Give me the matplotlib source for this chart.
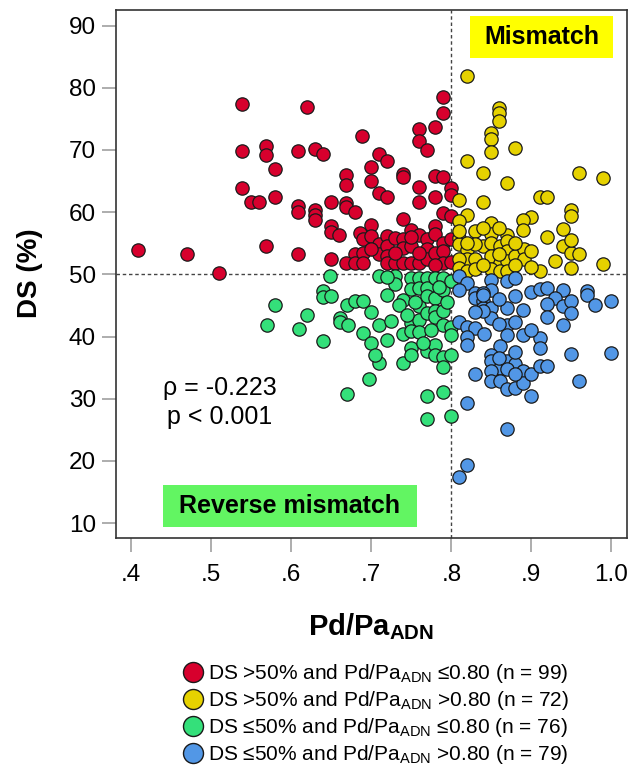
import matplotlib
matplotlib.use("Agg")
import matplotlib.pyplot as plt
from matplotlib.lines import Line2D
from matplotlib.patches import Rectangle

plt.rcParams['font.family'] = ['Liberation Sans', 'DejaVu Sans']
plt.rcParams['mathtext.fontset'] = 'custom'
plt.rcParams['mathtext.rm'] = 'Liberation Sans'
plt.rcParams['mathtext.it'] = 'Liberation Sans:italic'
plt.rcParams['mathtext.bf'] = 'Liberation Sans:bold'

# ---- data: (Pd/Pa_ADN, DS %) ----
red_x = [0.539, 0.620, 0.539, 0.569, 0.569, 0.609, 0.580, 0.539, 0.550, 0.560, 0.580, 0.609, 0.609,
         0.409, 0.470, 0.569, 0.609, 0.510,
         0.689, 0.669, 0.669, 0.650, 0.669, 0.669, 0.680, 0.630, 0.630, 0.630, 0.650, 0.650, 0.660,
         0.686, 0.680, 0.669, 0.680, 0.650,
         0.790, 0.790, 0.779, 0.760, 0.760, 0.770, 0.630, 0.640, 0.710, 0.720, 0.700, 0.740, 0.740,
         0.700, 0.779, 0.790, 0.760, 0.710, 0.720, 0.800, 0.800, 0.779, 0.760, 0.790, 0.800, 0.740,
         0.690, 0.690, 0.690, 0.700, 0.700, 0.710, 0.710, 0.720, 0.720, 0.720, 0.720, 0.730, 0.730,
         0.740, 0.740, 0.740, 0.750, 0.750, 0.750, 0.760, 0.760, 0.770, 0.770, 0.770, 0.780, 0.780,
         0.780, 0.790, 0.790, 0.790, 0.800,
         0.700, 0.760, 0.730, 0.800, 0.750, 0.780]
red_y = [77.4, 76.9, 69.8, 70.6, 69.2, 69.9, 66.9, 63.8, 61.6, 61.6, 62.4, 61.0, 60.0,
         53.9, 53.2, 54.6, 53.2, 50.2,
         72.3, 66.0, 64.4, 61.6, 61.5, 60.9, 60.0, 60.4, 59.6, 58.7, 57.7, 56.8, 56.4,
         56.7, 53.3, 51.8, 51.8, 52.4,
         78.5, 76.0, 73.7, 73.3, 71.4, 70.0, 70.2, 69.4, 69.4, 68.2, 67.3, 66.2, 65.7,
         65.0, 65.8, 65.7, 64.0, 63.0, 62.5, 63.9, 62.7, 62.5, 61.6, 59.9, 59.3, 58.9,
         55.6, 53.4, 51.8, 58.0, 56.1, 54.8, 53.2, 56.1, 54.5, 52.9, 51.8, 55.9, 51.8,
         55.6, 54.2, 51.8, 57.2, 54.5, 51.8, 56.4, 51.8, 55.6, 54.0, 52.4, 57.7, 56.5,
         53.4, 55.0, 53.7, 51.8, 55.6,
         54.0, 53.5, 53.5, 52.0, 56.0, 51.5]

yellow_x = [0.820, 0.860, 0.860, 0.860, 0.850, 0.850, 0.850, 0.880, 0.820, 0.840, 0.870, 0.960, 0.990,
            0.911, 0.920, 0.810, 0.840, 0.950, 0.950, 0.900, 0.890, 0.890, 0.820, 0.810, 0.850,
            0.830, 0.810, 0.810, 0.820, 0.820, 0.840, 0.850, 0.850, 0.861, 0.870, 0.870, 0.870,
            0.850, 0.861, 0.870, 0.880, 0.891, 0.891, 0.920, 0.940, 0.940, 0.950, 0.960, 0.929,
            0.950, 0.990, 0.911, 0.850, 0.861, 0.870, 0.810, 0.810, 0.820, 0.830,
            0.820, 0.830, 0.840, 0.880, 0.900, 0.860, 0.950, 0.810, 0.830, 0.880, 0.900, 0.860, 0.840]
yellow_y = [81.9, 76.8, 75.9, 74.6, 72.8, 71.8, 69.6, 70.3, 68.2, 66.3, 64.7, 66.3, 65.5,
            62.5, 62.5, 61.9, 61.6, 60.4, 59.4, 59.2, 58.8, 57.1, 59.6, 58.5, 58.2,
            56.9, 55.9, 54.8, 53.9, 52.4, 54.6, 56.5, 55.1, 54.5, 56.4, 55.3, 53.7,
            52.9, 51.8, 52.1, 52.9, 54.0, 52.5, 56.0, 57.3, 54.6, 53.4, 53.3, 52.1,
            51.0, 51.6, 50.6, 50.8, 50.5, 50.5, 52.4, 51.0, 50.6, 54.8,
            55.0, 52.4, 57.5, 55.0, 53.8, 57.5, 55.5, 57.0, 50.8, 51.5, 51.2, 53.2, 51.5]

green_x = [0.649, 0.640, 0.640, 0.650, 0.580, 0.620, 0.570, 0.610, 0.640, 0.661, 0.661, 0.671,
           0.670, 0.680, 0.690, 0.690, 0.670, 0.697, 0.700, 0.710, 0.710, 0.720,
           0.710, 0.720, 0.730, 0.730, 0.740, 0.740, 0.740,
           0.750, 0.750, 0.750, 0.750, 0.750, 0.750,
           0.760, 0.760, 0.760, 0.760, 0.760,
           0.770, 0.770, 0.770, 0.770, 0.770, 0.770, 0.770,
           0.780, 0.780, 0.780, 0.780, 0.780, 0.780,
           0.790, 0.790, 0.790, 0.790, 0.790, 0.790, 0.790,
           0.800, 0.800, 0.800, 0.800, 0.800, 0.720,
           0.735, 0.765, 0.775, 0.785, 0.745, 0.755, 0.795, 0.700, 0.725, 0.705]
green_y = [49.7, 47.3, 46.4, 46.5, 45.1, 43.4, 41.9, 41.2, 39.2, 43.0, 42.3, 41.9,
           45.1, 45.7, 45.7, 40.6, 30.8, 33.1, 39.0, 41.9, 35.8, 39.5,
           49.7, 46.6, 49.7, 48.5, 45.8, 40.4, 35.7,
           49.4, 47.6, 42.2, 40.9, 38.2, 37.1,
           49.4, 47.8, 44.9, 42.6, 40.8,
           49.4, 47.8, 46.5, 43.8, 37.6, 30.5, 26.8,
           49.4, 46.2, 44.1, 43.1, 38.7, 37.1,
           49.4, 47.5, 44.1, 41.8, 36.7, 35.1, 31.1,
           48.9, 41.5, 40.3, 37.1, 27.2, 49.5,
           45.0, 39.0, 41.0, 48.0, 43.5, 45.5, 45.5, 44.0, 42.5, 37.0]

blue_x = [0.810, 0.820, 0.810, 0.850, 0.850, 0.870, 0.880, 0.830, 0.830, 0.840, 0.840, 0.840,
          0.850, 0.850, 0.870, 0.870, 0.880, 0.890, 0.810, 0.820, 0.830, 0.841, 0.820, 0.820,
          0.870, 0.890, 0.861,
          0.900, 0.911, 0.920, 0.940, 0.930, 0.920, 0.920, 0.940, 0.950, 0.950, 0.940, 0.970,
          0.970, 0.980, 1.000, 0.911, 0.911, 0.950, 1.000, 0.960,
          0.850, 0.850, 0.861, 0.850, 0.850, 0.861, 0.870, 0.870, 0.880, 0.880, 0.890, 0.890,
          0.900, 0.911, 0.920, 0.900, 0.830, 0.820, 0.870, 0.820, 0.810, 0.870, 0.880, 0.840, 0.840,
          0.830, 0.860, 0.860, 0.880, 0.900, 0.860, 0.880]
blue_y = [49.7, 48.6, 47.5, 49.1, 47.5, 48.9, 49.4, 47.0, 46.2, 47.0, 45.7, 44.6,
          44.6, 43.0, 44.6, 41.9, 42.4, 44.3, 42.4, 41.6, 41.4, 40.4, 40.0, 38.7,
          40.2, 40.2, 38.4,
          47.2, 47.7, 47.8, 47.4, 46.2, 45.2, 43.2, 44.9, 45.7, 43.8, 41.9, 47.3,
          46.6, 45.1, 45.7, 39.7, 38.2, 37.2, 37.4, 32.9,
          37.1, 36.0, 35.0, 34.4, 32.8, 32.8, 36.0, 31.6, 35.5, 31.7, 34.4, 32.5,
          33.9, 35.2, 35.2, 30.4, 33.9, 29.3, 25.2, 19.4, 17.4, 34.7, 33.9, 46.7, 44.1,
          44.0, 46.0, 42.0, 46.5, 41.0, 36.5, 37.5]

group_colors = ['#D7002D', '#E6D200', '#34E07A', '#5297E6']
group_labels = [r'DS >50% and Pd/Pa$_{\mathregular{ADN}}$ ≤0.80 (n = 99)',
                r'DS >50% and Pd/Pa$_{\mathregular{ADN}}$ >0.80 (n = 72)',
                r'DS ≤50% and Pd/Pa$_{\mathregular{ADN}}$ ≤0.80 (n = 76)',
                r'DS ≤50% and Pd/Pa$_{\mathregular{ADN}}$ >0.80 (n = 79)']
xticks = [0.4, 0.5, 0.6, 0.7, 0.8, 0.9, 1.0]
xtick_labels = ['.4', '.5', '.6', '.7', '.8', '.9', '1.0']
yticks = [10, 20, 30, 40, 50, 60, 70, 80, 90]
ds_cut = 50
ffr_cut = 0.80

fig = plt.figure(figsize=(6.3, 7.66), dpi=100)
ax = fig.add_axes([116/630, 1-538/766, 511/630, 528/766])

groups = [(red_x, red_y), (yellow_x, yellow_y), (green_x, green_y), (blue_x, blue_y)]
for (gx, gy), c in zip(groups, group_colors):
    ax.scatter(gx, gy, s=92, c=c, edgecolors='#1a1a1a', linewidths=0.9, zorder=3)

ax.axvline(ffr_cut, color='#444444', lw=1.0, ls=(0, (2.5, 2)), zorder=2)
ax.axhline(ds_cut, color='#444444', lw=1.0, ls=(0, (2.5, 2)), zorder=2)

ax.set_xlim(0.381, 1.0195)
ax.set_ylim(7.6, 92.5)
ax.set_xticks(xticks)
ax.set_xticklabels(xtick_labels)
ax.set_yticks(yticks)
ax.tick_params(direction='out', length=10, width=1.2, color='#a0a0a0', labelsize=17.5)
ax.tick_params(axis='x', pad=9)
ax.tick_params(axis='y', pad=4.5)
for sp in ax.spines.values():
    sp.set_color('#333333')
    sp.set_linewidth(1.2)

ax.set_xlabel(r'Pd/Pa$_{\mathbf{ADN}}$', fontsize=21, fontweight='bold', va='center')
ax.xaxis.set_label_coords(0.5, (538-627)/528)
ax.set_ylabel('DS (%)', fontsize=20, fontweight='bold', va='center')
ax.yaxis.set_label_coords((30-116)/511, 0.502)

# annotation boxes
ax.add_patch(Rectangle((0.693, 0.909), 0.2796, 0.0796, transform=ax.transAxes,
                       facecolor='#FFFF00', edgecolor='none', zorder=4))
ax.text(0.8327, 0.949, 'Mismatch', transform=ax.transAxes, ha='center', va='center',
        fontsize=18, fontweight='bold', zorder=5)
ax.add_patch(Rectangle((0.092, 0.0208), 0.497, 0.0796, transform=ax.transAxes,
                       facecolor='#62F562', edgecolor='none', zorder=4))
ax.text(0.3405, 0.0606, 'Reverse mismatch', transform=ax.transAxes, ha='center', va='center',
        fontsize=18, fontweight='bold', zorder=5)

ax.text(0.2025, 0.2566, 'ρ = -0.223\np < 0.001', transform=ax.transAxes, ha='center',
        va='center', multialignment='center', fontsize=18, linespacing=1.25)

handles = [Line2D([], [], ls='', marker='o', ms=14.4, mfc=c, mec='#1a1a1a', mew=1.0)
           for c in group_colors]
fig.legend(handles, group_labels, loc='upper left', bbox_to_anchor=(182.6/630, 1-662/766),
           frameon=False, fontsize=15, handlelength=1.0, handletextpad=0.2,
           labelspacing=0.19, borderpad=0, borderaxespad=0)

fig.savefig('out.png', dpi=100)
